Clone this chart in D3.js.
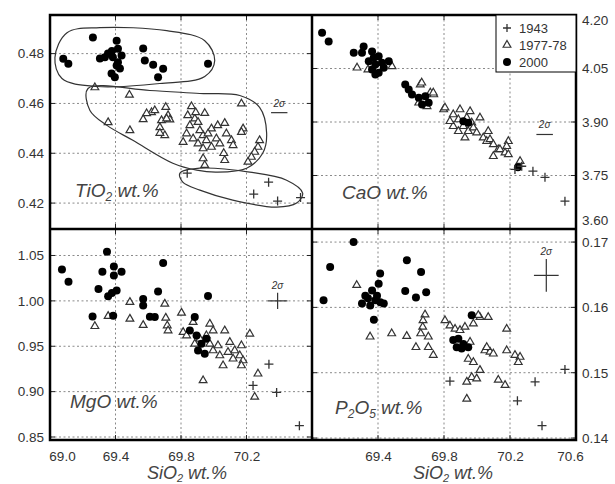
<!DOCTYPE html>
<html>
<head>
<meta charset="utf-8">
<script src="https://cdn.jsdelivr.net/npm/d3@7"></script>
<style>
  body { margin:0; background:#fff; }
  svg text { font-family: "Liberation Sans", Arial, sans-serif; }
</style>
</head>
<body>
<div id="chart-area"></div>
<script>
// SiO2 vs oxides, three eruption years

var years = ["1943", "1977-78", "2000"];
var xTicksLeft = [69.0, 69.4, 69.8, 70.2];
var xTicksRight = [69.4, 69.8, 70.2, 70.6];
var xGrid = [69.4, 69.8, 70.2];
var tiTicks = [0.42, 0.44, 0.46, 0.48];
var caTicks = [3.60, 3.75, 3.90, 4.05, 4.20];
var mgTicks = [0.85, 0.90, 0.95, 1.00, 1.05];
var pTicks = [0.14, 0.15, 0.16, 0.17];

// TiO2
var ti2000 = [[69.262,0.4865],[69.081,0.4779],[69.112,0.4759],[69.407,0.4852],[69.415,0.482],[69.354,0.480],[69.305,0.478],[69.335,0.4785],[69.384,0.4785],[69.437,0.4792],[69.407,0.4752],[69.376,0.472],[69.396,0.4705],[69.415,0.4765],[69.378,0.481],[69.427,0.474],[69.569,0.4821],[69.579,0.4772],[69.630,0.4755],[69.691,0.4739],[69.660,0.4705],[69.965,0.4759]];
var ti1977 = [[69.274,0.4664],[69.485,0.4634],[69.355,0.4524],[69.488,0.4492],[69.569,0.4536],[69.620,0.4564],[69.640,0.4572],[69.707,0.4585],[69.721,0.4552],[69.681,0.4532],[69.732,0.4535],[69.671,0.4504],[69.701,0.4472],[69.671,0.4481],[69.864,0.4588],[69.945,0.4561],[69.884,0.4539],[69.904,0.4525],[69.854,0.4512],[69.834,0.4479],[69.813,0.4445],[69.874,0.4459],[69.904,0.4439],[69.935,0.4472],[69.955,0.4452],[69.986,0.4499],[70.016,0.4459],[70.037,0.4439],[70.067,0.4521],[70.077,0.4479],[70.108,0.4452],[70.118,0.4432],[69.935,0.4419],[69.986,0.4425],[69.915,0.4492],[69.965,0.4479],[69.935,0.4379],[69.945,0.4352],[70.067,0.4372],[70.061,0.440],[70.169,0.4599],[70.179,0.4499],[70.169,0.4485],[70.280,0.4452],[70.270,0.4425],[70.250,0.4405],[70.230,0.4385],[70.209,0.4365],[69.590,0.456],[69.712,0.4539],[69.841,0.4552],[69.890,0.4564],[70.024,0.4512]];
var ti1943 = [[69.838,0.432],[70.335,0.4284],[70.244,0.4236],[70.390,0.4208],[70.530,0.4222]];

// CaO
var ca2000 = [[69.061,4.150],[69.101,4.126],[69.253,4.094],[69.313,4.112],[69.374,4.080],[69.404,4.084],[69.384,4.061],[69.364,4.047],[69.404,4.038],[69.424,4.066],[69.435,4.052],[69.384,4.033],[69.344,4.070],[69.303,4.094],[69.465,4.070],[69.364,4.098],[69.565,4.005],[69.586,3.991],[69.606,3.977],[69.647,3.968],[69.687,3.972],[69.667,3.949],[69.707,3.954],[69.947,3.898],[69.917,3.902],[70.248,3.773]];
var ca1977 = [[69.273,4.052],[69.485,4.056],[69.339,4.047],[69.656,4.005],[69.717,3.982],[69.738,3.977],[69.647,3.954],[69.697,3.944],[69.798,3.935],[69.806,3.940],[69.856,3.921],[69.887,3.907],[69.938,3.912],[69.968,3.898],[69.917,3.888],[69.856,3.888],[69.887,3.874],[69.947,3.874],[69.978,3.884],[69.998,3.870],[70.018,3.912],[69.836,3.902],[69.927,3.856],[70.038,3.856],[70.068,3.874],[70.059,3.846],[70.079,3.851],[70.099,3.837],[70.129,3.823],[70.190,3.846],[70.180,3.832],[70.139,3.823],[70.170,3.814],[70.099,3.804],[70.190,3.809],[69.665,4.010],[69.735,3.982],[69.897,3.935],[69.958,3.930],[70.261,3.790]];
var ca1943 = [[70.271,3.776],[70.230,3.767],[70.339,3.762],[70.412,3.745],[70.533,3.678]];

// MgO
var mg2000 = [[69.348,1.0542],[69.073,1.0347],[69.113,1.0212],[69.320,1.0322],[69.390,1.038],[69.390,1.028],[69.437,1.0322],[69.296,1.0132],[69.355,1.005],[69.407,1.0113],[69.378,1.0088],[69.260,0.9827],[69.386,0.9835],[69.569,1.0022],[69.569,0.9948],[69.640,0.9821],[69.660,1.0102],[69.691,1.0416],[69.965,1.0055],[69.884,0.9821],[69.854,0.9673],[69.895,0.9618],[69.925,0.9527],[69.945,0.9417],[69.904,0.9453],[69.955,0.9582],[69.610,0.9824]];
var mg1977 = [[69.488,0.9986],[69.488,0.9802],[69.569,0.9733],[69.274,0.972],[69.355,0.9832],[69.701,0.9967],[69.707,0.9813],[69.716,0.9728],[69.721,0.9673],[69.803,0.9868],[69.874,0.9766],[69.976,0.9747],[69.996,0.9673],[70.067,0.9673],[70.220,0.9637],[70.169,0.9508],[70.098,0.9546],[70.128,0.9453],[70.159,0.9398],[70.179,0.9343],[70.169,0.9288],[70.057,0.9288],[69.996,0.9453],[70.026,0.9508],[69.935,0.9123],[70.270,0.9197],[70.250,0.8941],[69.813,0.9656],[69.834,0.9618],[69.955,0.9618],[69.976,0.9527],[70.087,0.9436],[70.118,0.9362],[70.037,0.9398],[69.915,0.9582],[69.884,0.9527]];
var mg1943 = [[70.337,0.9302],[70.240,0.9068],[70.384,0.8991],[70.523,0.8625]];

// P2O5
var p2000 = [[69.252,0.1700],[69.110,0.1662],[69.070,0.1611],[69.575,0.1672],[69.661,0.1654],[69.565,0.1625],[69.630,0.1615],[69.692,0.1623],[69.413,0.1652],[69.375,0.1581],[69.404,0.1636],[69.364,0.1626],[69.394,0.1618],[69.323,0.1618],[69.303,0.1606],[69.353,0.1603],[69.414,0.1608],[69.435,0.1606],[69.384,0.1611],[69.339,0.1614],[69.968,0.1588],[69.856,0.1550],[69.887,0.1552],[69.917,0.1544],[69.947,0.1539],[69.877,0.1539],[69.907,0.1537]];
var p1977 = [[69.271,0.1634],[69.352,0.1555],[69.483,0.1560],[69.574,0.1556],[69.630,0.1539],[69.685,0.1589],[69.673,0.1580],[69.671,0.1570],[69.659,0.1560],[69.705,0.1555],[69.735,0.1527],[69.705,0.1539],[69.806,0.1580],[69.836,0.1572],[69.867,0.1567],[69.897,0.1565],[69.927,0.1570],[69.978,0.1575],[70.018,0.1585],[70.068,0.1585],[70.008,0.1588],[70.180,0.1567],[70.048,0.1534],[70.079,0.1532],[70.059,0.1539],[70.099,0.1529],[70.180,0.1534],[70.230,0.1527],[70.261,0.1524],[70.250,0.1516],[69.947,0.1521],[69.978,0.1516],[70.018,0.1504],[69.968,0.1493],[69.938,0.1486],[69.998,0.1491],[70.129,0.1489],[70.170,0.1481],[69.938,0.1460],[69.958,0.1547]];
var p1943 = [[69.836,0.1487],[70.352,0.1486],[70.245,0.1457],[70.394,0.1419],[70.533,0.1505]];

// outlines drawn round the groups in the TiO2 panel (data units)
var hull2000 = [[69.030,0.4784],[69.104,0.4884],[69.305,0.4904],[69.713,0.4892],[69.945,0.4852],[70.006,0.4772],[69.945,0.4708],[69.671,0.468],[69.287,0.4668],[69.073,0.470]];
var hull1977 = [[69.232,0.466],[69.610,0.4652],[69.915,0.464],[70.159,0.4632],[70.280,0.4584],[70.323,0.448],[70.299,0.440],[70.201,0.434],[70.018,0.4324],[69.896,0.4332],[69.750,0.436],[69.506,0.4452],[69.348,0.4512],[69.244,0.4572]];
var hull1943 = [[69.793,0.432],[69.915,0.434],[70.220,0.4324],[70.445,0.4292],[70.543,0.424],[70.506,0.420],[70.384,0.4184],[70.116,0.4212],[69.915,0.4252],[69.811,0.4284]];

// 2 sigma bars: [x, y, half width x, half height y]
var sigTi = [70.40, 0.4563, 0.05, 0];
var sigCa = [70.41, 3.865, 0.05, 0];
var sigMg = [70.39, 1.000, 0.06, 0.009];
var sigP = [70.42, 0.1649, 0.075, 0.0025];

var L = 50, M = 312, R = 576, T = 15, HM = 229, B = 440;

var svg = d3.select("#chart-area").append("svg")
    .attr("width", 615)
    .attr("height", 484);

var xLeft = d3.scaleLinear().domain([69.0, 70.6]).range([L, M]);
var xRight = d3.scaleLinear().domain([69.0, 70.6]).range([M, R]);
var yTi = d3.scaleLinear().domain([0.4096, 0.4955]).range([HM, T]);
var yCa = d3.scaleLinear().domain([3.60, 4.20]).range([HM, T]);
var yMg = d3.scaleLinear().domain([0.8467, 1.0792]).range([B, HM]);
var yP = d3.scaleLinear().domain([0.1397, 0.172]).range([B, HM]);

var panels = [
    {x: xLeft, y: yTi, ticks: tiTicks, side: "left", s1943: ti1943, s1977: ti1977, s2000: ti2000,
     name: ["TiO", "2", " wt.%"], lx: 75, ly: 197, sig: sigTi},
    {x: xRight, y: yCa, ticks: caTicks, side: "right", s1943: ca1943, s1977: ca1977, s2000: ca2000,
     name: ["CaO", "", " wt.%"], lx: 342, ly: 199, sig: sigCa},
    {x: xLeft, y: yMg, ticks: mgTicks, side: "left", s1943: mg1943, s1977: mg1977, s2000: mg2000,
     name: ["MgO", "", " wt.%"], lx: 70, ly: 408, sig: sigMg},
    {x: xRight, y: yP, ticks: pTicks, side: "right", s1943: p1943, s1977: p1977, s2000: p2000,
     name: ["P", "2", "O", "5", " wt.%"], lx: 335, ly: 414, sig: sigP}
];

var tri = d3.symbol().type(d3.symbolTriangle).size(26);

panels.forEach(function(p) {
    var x0 = p.x.range()[0], x1 = p.x.range()[1];
    var y0 = p.y.range()[1], y1 = p.y.range()[0];
    var g = svg.append("g");

    // dotted grid
    g.selectAll(".vg").data(xGrid).enter().append("line")
        .attr("x1", function(d) { return p.x(d); })
        .attr("x2", function(d) { return p.x(d); })
        .attr("y1", y0).attr("y2", y1)
        .attr("stroke", "#8a8a8a").attr("stroke-width", 1)
        .attr("stroke-dasharray", "2,2.5");
    g.selectAll(".hg").data(p.ticks).enter().append("line")
        .attr("x1", x0).attr("x2", x1)
        .attr("y1", function(d) { return p.y(d); })
        .attr("y2", function(d) { return p.y(d); })
        .attr("stroke", "#8a8a8a").attr("stroke-width", 1)
        .attr("stroke-dasharray", "2,2.5");

    // small inner ticks
    p.ticks.forEach(function(t) {
        g.append("line").attr("x1", x0).attr("x2", x0 + 5)
            .attr("y1", p.y(t)).attr("y2", p.y(t)).attr("stroke", "#222");
        g.append("line").attr("x1", x1 - 5).attr("x2", x1)
            .attr("y1", p.y(t)).attr("y2", p.y(t)).attr("stroke", "#222");
    });
    xGrid.forEach(function(t) {
        g.append("line").attr("x1", p.x(t)).attr("x2", p.x(t))
            .attr("y1", y0).attr("y2", y0 + 5).attr("stroke", "#222");
        g.append("line").attr("x1", p.x(t)).attr("x2", p.x(t))
            .attr("y1", y1 - 5).attr("y2", y1).attr("stroke", "#222");
    });

    // markers
    g.selectAll(".t77").data(p.s1977).enter().append("path")
        .attr("d", tri)
        .attr("transform", function(d) { return "translate(" + p.x(d[0]) + "," + p.y(d[1]) + ")"; })
        .attr("fill", "#fff")
        .attr("stroke", "#333")
        .attr("stroke-width", 1.2);

    g.selectAll(".c00").data(p.s2000).enter().append("circle")
        .attr("cx", function(d) { return p.x(d[0]); })
        .attr("cy", function(d) { return p.y(d[1]); })
        .attr("r", 4)
        .attr("fill", "#000");

    g.selectAll(".p43").data(p.s1943).enter().append("path")
        .attr("d", "M-4.5,0H4.5M0,-4.5V4.5")
        .attr("transform", function(d) { return "translate(" + p.x(d[0]) + "," + p.y(d[1]) + ")"; })
        .attr("stroke", "#333")
        .attr("stroke-width", 1.3)
        .attr("fill", "none");

    // 2 sigma
    var s = p.sig;
    g.append("line")
        .attr("x1", p.x(s[0] - s[2])).attr("x2", p.x(s[0] + s[2]))
        .attr("y1", p.y(s[1])).attr("y2", p.y(s[1]))
        .attr("stroke", "#333").attr("stroke-width", 1.2);
    if (s[3] > 0) {
        g.append("line")
            .attr("x1", p.x(s[0])).attr("x2", p.x(s[0]))
            .attr("y1", p.y(s[1] - s[3])).attr("y2", p.y(s[1] + s[3]))
            .attr("stroke", "#333").attr("stroke-width", 1.2);
    }
    var sy = s[3] > 0 ? p.y(s[1] + s[3]) - 4 : p.y(s[1]) - 6;
    g.append("text")
        .attr("x", p.x(s[0]))
        .attr("y", sy)
        .attr("text-anchor", "middle")
        .attr("font-size", "10px")
        .attr("font-style", "italic")
        .attr("fill", "#333")
        .text("2\u03c3");

    // panel name
    var lab = g.append("text")
        .attr("x", p.lx).attr("y", p.ly)
        .attr("font-size", "19px")
        .attr("font-style", "italic")
        .attr("fill", "#444");
    p.name.forEach(function(part, i) {
        if (part === "") return;
        var sub = (i % 2 === 1);
        lab.append("tspan")
            .attr("font-size", sub ? "12px" : "19px")
            .attr("dy", sub ? 4 : (i > 0 && p.name[i - 1] !== "" ? -4 : 0))
            .text(part);
    });

    // y tick labels
    var ax = p.side === "left" ? d3.axisLeft(p.y) : d3.axisRight(p.y);
    var ga = svg.append("g")
        .attr("transform", "translate(" + (p.side === "left" ? x0 : x1) + ",0)")
        .call(ax.tickValues(p.ticks).tickFormat(d3.format(".2f")).tickSize(0).tickPadding(6));
    ga.select(".domain").remove();
    ga.selectAll("text")
        .attr("font-size", "13.5px")
        .attr("fill", "#333")
        .attr("font-family", "Liberation Sans, Arial, sans-serif")
        .attr("dy", function(d) {
            if (p.y === yCa && d === 4.20) return "0.7em";
            if (p.y === yCa && d === 3.60) return "-0.3em";
            return "0.32em";
        });
});

// bottom x tick labels
[[xLeft, xTicksLeft], [xRight, xTicksRight]].forEach(function(a) {
    var gx = svg.append("g")
        .attr("transform", "translate(0," + B + ")")
        .call(d3.axisBottom(a[0]).tickValues(a[1]).tickFormat(d3.format(".1f")).tickSize(0).tickPadding(11));
    gx.select(".domain").remove();
    gx.selectAll("text")
        .attr("font-size", "13.5px")
        .attr("fill", "#333")
        .attr("font-family", "Liberation Sans, Arial, sans-serif")
        .attr("dx", function(d) {
            if (d === 69.0) return 12;
            if (d === 70.6) return -6;
            return 0;
        });
});

// SiO2 axis titles
[[xLeft, 187], [xRight, 453]].forEach(function(a) {
    var t = svg.append("text")
        .attr("x", a[1]).attr("y", 479)
        .attr("text-anchor", "middle")
        .attr("font-size", "18px")
        .attr("font-style", "italic")
        .attr("fill", "#444");
    t.append("tspan").text("SiO");
    t.append("tspan").attr("font-size", "11px").attr("dy", 3).text("2");
    t.append("tspan").attr("dy", -3).text(" wt.%");
});

// outlines round the TiO2 groups
var hullLine = d3.line()
    .x(function(d) { return xLeft(d[0]); })
    .y(function(d) { return yTi(d[1]); })
    .curve(d3.curveCatmullRomClosed.alpha(0.5));
[hull2000, hull1977, hull1943].forEach(function(h) {
    svg.append("path")
        .attr("d", hullLine(h))
        .attr("fill", "none")
        .attr("stroke", "#333")
        .attr("stroke-width", 1.2);
});

// frame
svg.append("rect")
    .attr("x", L).attr("y", T)
    .attr("width", R - L).attr("height", B - T)
    .attr("fill", "none").attr("stroke", "#000").attr("stroke-width", 2.5);
svg.append("line").attr("x1", M).attr("x2", M).attr("y1", T).attr("y2", B)
    .attr("stroke", "#000").attr("stroke-width", 2.5);
svg.append("line").attr("x1", L).attr("x2", R).attr("y1", HM).attr("y2", HM)
    .attr("stroke", "#000").attr("stroke-width", 2.5);

// legend
var legend = svg.append("g");
legend.append("rect")
    .attr("x", 496).attr("y", T)
    .attr("width", R - 496).attr("height", 57)
    .attr("fill", "#fff").attr("stroke", "#000").attr("stroke-width", 1);
years.forEach(function(yr, i) {
    var cy = 28 + i * 17;
    var row = legend.append("g").attr("transform", "translate(507," + cy + ")");
    if (i === 0) {
        row.append("path").attr("d", "M-4,0H4M0,-4V4").attr("stroke", "#333").attr("stroke-width", 1.3);
    } else if (i === 1) {
        row.append("path").attr("d", tri).attr("fill", "#fff").attr("stroke", "#333").attr("stroke-width", 1.2);
    } else {
        row.append("circle").attr("r", 4).attr("fill", "#000");
    }
    row.append("text")
        .attr("x", 12).attr("y", 5)
        .attr("font-size", "13px")
        .attr("fill", "#333")
        .text(yr);
});
</script>
</body>
</html>
